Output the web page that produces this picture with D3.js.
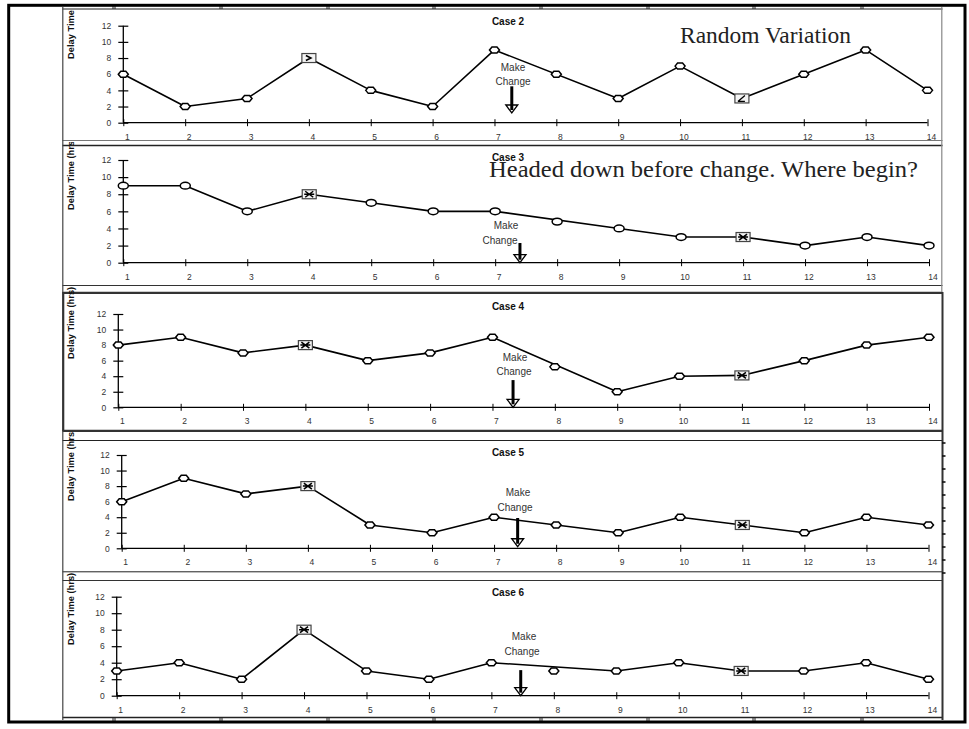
<!DOCTYPE html>
<html><head><meta charset="utf-8">
<script src="https://cdn.jsdelivr.net/npm/d3@7"></script>
<style>html,body{margin:0;padding:0;background:#fff}svg{display:block}</style>
</head><body>
<script>
// ---------- DATA ----------
const categories = [1,2,3,4,5,6,7,8,9,10,11,12,13,14];
const yTicks = [0,2,4,6,8,10,12];
const caseTitles = ["Case 2","Case 3","Case 4","Case 5","Case 6"];
const case2 = [6,2,3,8,4,2,9,6,3,7,3,6,9,4];
const case3 = [9,9,6,8,7,6,6,4.8,4,3,3,2,3,2];
const case4 = [8,9,7,8,6,7,9,5.2,2,4,4.1,6,8,9];
const case5 = [6,9,7,8,3,2,4,3,2,4,3,2,4,3];
const case6 = [3,4,2,8,3,2,4,3,3,4,3,3,4,2];
const caseValues = [case2, case3, case4, case5, case6];
const flaggedPoints = [4, 11];      // boxed markers
const lineBypass = [8];             // the line runs past this point
const changeX = [7.28, 7.4, 7.33, 7.38, 7.47];
const arrowTop = [4.5, 2.3, 3.5, 3.9, 3.1];
const arrowBottom = [1.2, 0, 0, 0.2, 0];
const yLabel = "Delay Time (hrs)";
const notes = ["Random Variation", "Headed down before change. Where begin?"];

// ---------- LAYOUT ----------
const W = 969, H = 729;
const panels = [
  {y0:122.7, y12:25.7, x1:123.3, x14:927.5, titleY:25, labStart:59, clipTop:9,
   make:[{x:513,y:71},{x:513,y:85}], marker:"diamond", box:"glyph"},
  {y0:262.7, y12:160, x1:123.3, x14:929, titleY:160.5, labStart:210, clipTop:142,
   make:[{x:506,y:229},{x:500,y:244}], marker:"ellipse", box:"x"},
  {y0:407.3, y12:314, x1:118.3, x14:929, titleY:310, labStart:359, clipTop:287,
   make:[{x:515,y:361},{x:514,y:375}], marker:"diamond", box:"x"},
  {y0:548.3, y12:455, x1:121.7, x14:928.5, titleY:456, labStart:501, clipTop:432,
   make:[{x:518,y:496},{x:515,y:511}], marker:"diamond", box:"x"},
  {y0:695.7, y12:596.7, x1:116.7, x14:928.5, titleY:596, labStart:645, clipTop:573,
   make:[{x:524,y:640},{x:522,y:655}], marker:"diamond", box:"x"}
];

const svg = d3.select("body").append("svg").attr("width",W).attr("height",H);
const defs = svg.append("defs");

// ---------- FRAME ----------
const frame = svg.append("g");
const hLines = [
  {y:9, c:"#222", w:1}, {y:140.5, c:"#777", w:1}, {y:145.5, c:"#222", w:1.3},
  {y:285.5, c:"#333", w:1.2}, {y:292.8, c:"#333", w:2.2},
  {y:430.8, c:"#333", w:2.2}, {y:440.5, c:"#222", w:1},
  {y:571.8, c:"#222", w:1}, {y:580.5, c:"#333", w:1.2}, {y:717.5, c:"#222", w:1.3}
];
hLines.forEach(l => frame.append("line").attr("x1",62.5).attr("x2",942.5)
  .attr("y1",l.y).attr("y2",l.y).attr("stroke",l.c).attr("stroke-width",l.w));
frame.append("line").attr("x1",62.8).attr("x2",62.8).attr("y1",7).attr("y2",720)
  .attr("stroke","#444").attr("stroke-width",1.2);
frame.append("line").attr("x1",941.8).attr("x2",941.8).attr("y1",7).attr("y2",292)
  .attr("stroke","#888").attr("stroke-width",1.2);
frame.append("line").attr("x1",942.5).attr("x2",942.5).attr("y1",292).attr("y2",720)
  .attr("stroke","#333").attr("stroke-width",2);
frame.append("line").attr("x1",63.3).attr("x2",63.3).attr("y1",292).attr("y2",431)
  .attr("stroke","#333").attr("stroke-width",2);
const rt = d3.scaleLinear().domain([0,10]).range([573,443]);
d3.range(0,11).forEach(i => frame.append("line").attr("x1",942).attr("x2",945.5)
  .attr("y1",rt(i)).attr("y2",rt(i)).attr("stroke","#111").attr("stroke-width",1.6));
[113,220,327,433,540,647,753,861].forEach(x => {
  [[5,9],[717,723]].forEach(([a,b]) => {
    frame.append("line").attr("x1",x).attr("x2",x).attr("y1",a).attr("y2",b).attr("stroke","#222").attr("stroke-width",1);
    frame.append("line").attr("x1",x+2).attr("x2",x+2).attr("y1",a).attr("y2",b).attr("stroke","#222").attr("stroke-width",1);
  });
});
frame.append("rect").attr("x",8.7).attr("y",5.3).attr("width",956.3).attr("height",716.7)
  .attr("fill","none").attr("stroke","#000").attr("stroke-width",3);

// ---------- PANELS ----------
const font = "'Liberation Sans', Arial, sans-serif";
panels.forEach((p, i) => {
  const vals = caseValues[i];
  const data = categories.map((c, k) => ({c, v: vals[k]}));
  const x = d3.scaleLinear().domain([1,14]).range([p.x1, p.x14]);
  const y = d3.scaleLinear().domain([0,12]).range([p.y0, p.y12]);
  const g = svg.append("g");

  const cid = "clip"+i;
  defs.append("clipPath").attr("id",cid).append("rect")
    .attr("x",60).attr("y",p.clipTop).attr("width",30).attr("height",200);
  g.append("g").attr("clip-path",`url(#${cid})`).append("text")
    .attr("transform",`translate(73.6,${p.labStart}) rotate(-90)`)
    .attr("font-family",font).attr("font-size",9.3).attr("font-weight","bold")
    .attr("fill","#111").text(yLabel);

  const ya = g.append("g").attr("transform",`translate(${p.x1},0)`)
    .call(d3.axisLeft(y).tickValues(yTicks).tickSize(5).tickPadding(0));
  ya.select(".domain").attr("stroke","#000").attr("stroke-width",1.3).attr("d",`M0,${p.y0}V${p.y12}`);
  ya.selectAll(".tick line").attr("x1",-5).attr("x2",5).attr("stroke","#000").attr("stroke-width",1.2);
  ya.selectAll(".tick text").attr("x",-12).attr("font-family",font).attr("font-size",8.5).attr("fill","#333");

  const xa = g.append("g").attr("transform",`translate(0,${p.y0})`)
    .call(d3.axisBottom(x).tickValues(categories).tickSize(3));
  xa.select(".domain").attr("stroke","#000").attr("stroke-width",1.3).attr("d",`M${p.x1},0H${p.x14}`);
  xa.selectAll(".tick line").attr("y1",-3.5).attr("y2",3.5).attr("stroke","#000").attr("stroke-width",1);
  xa.selectAll(".tick text").attr("x",3.5).attr("y",11).attr("dy","0.71em")
    .attr("font-family",font).attr("font-size",8.5).attr("fill","#333");

  g.append("text").attr("x",508).attr("y",p.titleY).attr("text-anchor","middle")
    .attr("font-family",font).attr("font-size",10).attr("font-weight","bold").attr("fill","#111")
    .text(caseTitles[i]);

  const line = d3.line().x(d => x(d.c)).y(d => y(d.v));
  g.append("path").datum(data.filter(d => !lineBypass.includes(d.c)))
    .attr("d",line).attr("fill","none").attr("stroke","#000").attr("stroke-width",1.6)
    .attr("stroke-linejoin","round");

  data.filter(d => !flaggedPoints.includes(d.c)).forEach(d => {
    if (p.marker === "ellipse") {
      g.append("ellipse").attr("cx",x(d.c)).attr("cy",y(d.v)).attr("rx",5).attr("ry",3.4)
        .attr("fill","#fff").attr("stroke","#000").attr("stroke-width",1.5);
    } else {
      g.append("path").attr("transform",`translate(${x(d.c)},${y(d.v)})`)
        .attr("d","M-5,0L-2.5,-3L2.5,-3L5,0L2.5,3L-2.5,3Z")
        .attr("fill","#fff").attr("stroke","#000").attr("stroke-width",1.5);
    }
  });
  data.filter(d => flaggedPoints.includes(d.c)).forEach(d => {
    const m = g.append("g").attr("transform",`translate(${x(d.c)},${y(d.v)})`);
    m.append("rect").attr("x",-7).attr("y",-4.5).attr("width",14).attr("height",9)
      .attr("fill","#f4f4f4").attr("stroke","#444").attr("stroke-width",1.2);
    if (p.box === "glyph") {
      if (d.c === 4) m.append("path").attr("d","M-3,-2.5L2,0L-3,2.5").attr("fill","none").attr("stroke","#000").attr("stroke-width",1.6);
      else m.append("path").attr("d","M-4,3L3,-3M-4,3H3").attr("fill","none").attr("stroke","#000").attr("stroke-width",1.3);
    } else {
      m.append("path").attr("d","M-4,-3L4,3M-4,3L4,-3M-5,0H5").attr("fill","none").attr("stroke","#000").attr("stroke-width",1.5);
    }
  });

  p.make.forEach((t, k) => g.append("text").attr("x",t.x).attr("y",t.y).attr("text-anchor","middle")
    .attr("font-family",font).attr("font-size",10).attr("fill","#333").text(k ? "Change" : "Make"));
  const ax = x(changeX[i]), at = y(arrowTop[i]), ab = y(arrowBottom[i]);
  g.append("line").attr("x1",ax).attr("x2",ax).attr("y1",at).attr("y2",ab-3)
    .attr("stroke","#000").attr("stroke-width",3);
  g.append("path").attr("d",`M${ax-6},${ab-8}H${ax+6}L${ax},${ab}Z`)
    .attr("fill","#fff").attr("stroke","#000").attr("stroke-width",1.3);
  g.append("line").attr("x1",ax).attr("x2",ax).attr("y1",ab-8).attr("y2",ab-3)
    .attr("stroke","#000").attr("stroke-width",3);
});

// ---------- SLIDE NOTES ----------
const serif = "'Liberation Serif', 'DejaVu Serif', serif";
svg.append("text").attr("x",680).attr("y",43).attr("font-family",serif).attr("font-size",22.5)
  .attr("fill","#222").attr("textLength",171).attr("lengthAdjust","spacingAndGlyphs").text(notes[0]);
svg.append("text").attr("x",489).attr("y",177).attr("font-family",serif).attr("font-size",23)
  .attr("fill","#222").attr("textLength",429).attr("lengthAdjust","spacingAndGlyphs").text(notes[1]);
</script>
</body></html>
